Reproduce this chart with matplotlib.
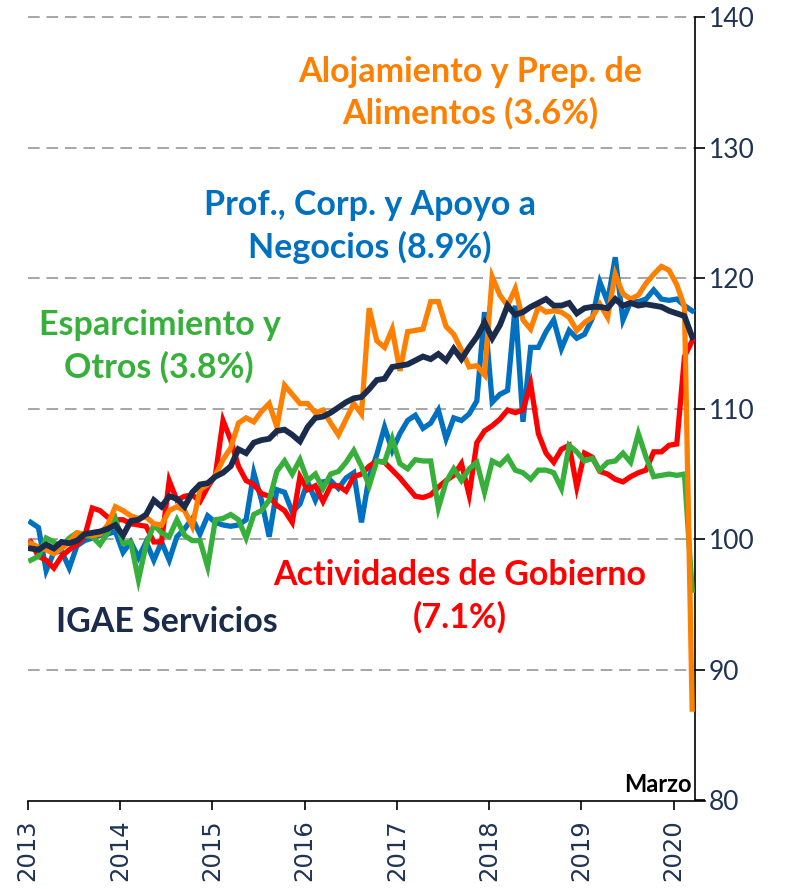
import numpy as np
import matplotlib
matplotlib.use('Agg')
import matplotlib.pyplot as plt

# indices mensuales, ene-2013 a mar-2020
igae_servicios = [
    99.3, 99.2, 99.6, 99.3, 99.8, 99.7, 99.9, 100.4, 100.5, 100.6, 100.8, 101.1,
    100.3, 101.4, 101.5, 101.9, 103.0, 102.5, 103.3, 103.1, 102.5, 103.6, 104.2, 104.3,
    104.8, 105.1, 105.6, 106.9, 106.6, 107.4, 107.6, 107.7, 108.3, 108.4, 108.0, 107.5,
    108.6, 109.3, 109.4, 109.7, 110.1, 110.5, 110.8, 110.9, 111.5, 112.2, 112.3, 113.2,
    113.3, 113.4, 113.7, 114.0, 113.8, 114.2, 113.7, 114.6, 113.8, 114.7, 115.5, 116.6,
    115.4, 116.4, 117.9, 117.2, 117.4, 117.8, 118.1, 118.4, 117.9, 117.9, 118.1, 117.3,
    117.7, 117.8, 117.8, 117.7, 118.4, 117.9, 118.1, 117.9, 118.0, 117.9, 117.8, 117.5,
    117.3, 117.1, 115.5]

alojamiento = [
    99.7, 99.4, 99.2, 98.9, 99.3, 99.8, 100.5, 100.4, 100.3, 100.4, 101.1, 102.5,
    102.2, 101.8, 101.6, 101.7, 101.2, 101.1, 102.2, 102.5, 102.2, 101.0, 103.8, 104.2,
    104.9, 106.1, 107.0, 108.9, 109.3, 109.0, 109.8, 110.4, 108.6, 111.8, 111.1, 110.4,
    110.4, 109.7, 109.9, 108.9, 108.0, 109.2, 110.4, 109.6, 117.7, 115.2, 114.7, 116.1,
    112.9, 115.9, 116.0, 116.1, 118.2, 118.2, 116.3, 115.7, 114.5, 113.2, 113.3, 112.6,
    120.1, 118.7, 117.9, 119.2, 116.8, 116.1, 117.8, 117.4, 117.5, 117.4, 117.0, 116.0,
    116.6, 117.0, 118.0, 117.0, 120.3, 118.8, 118.4, 118.7, 119.6, 120.3, 120.9, 120.6,
    119.5, 117.8, 87.0]

profesionales = [
    101.3, 100.9, 97.6, 99.0, 99.1, 97.8, 99.5, 99.9, 100.1, 100.3, 100.4, 100.6,
    99.0, 99.8, 98.6, 99.8, 98.4, 99.8, 98.4, 100.2, 100.8, 101.6, 100.4, 101.8,
    101.3, 101.1, 101.0, 101.1, 101.5, 105.1, 103.0, 100.2, 103.8, 103.6, 102.1, 102.7,
    104.4, 103.0, 104.4, 104.5, 103.9, 104.7, 105.1, 101.3, 104.8, 106.5, 108.6, 106.8,
    108.1, 109.1, 109.5, 108.5, 108.9, 109.9, 107.7, 109.3, 109.1, 109.6, 110.6, 117.4,
    110.5, 111.1, 111.4, 117.9, 109.0, 114.7, 114.7, 115.9, 116.8, 114.6, 116.0, 115.4,
    115.7, 116.9, 119.7, 118.2, 121.6, 116.8, 118.2, 118.2, 118.4, 119.1, 118.4, 118.3,
    118.4, 117.9, 117.5]

gobierno = [
    99.8, 98.7, 98.4, 97.8, 98.7, 99.2, 99.6, 100.2, 102.4, 102.2, 101.7, 101.5,
    101.5, 101.2, 101.1, 101.0, 99.8, 99.8, 104.5, 103.0, 103.3, 103.4, 102.9, 104.0,
    104.9, 109.1, 107.6, 105.6, 104.5, 104.2, 103.5, 103.3, 102.6, 102.2, 101.3, 104.8,
    103.8, 104.1, 102.9, 104.1, 104.1, 103.7, 104.8, 105.0, 105.6, 106.0, 105.9, 105.3,
    104.7, 104.0, 103.3, 103.2, 103.4, 104.0, 104.5, 104.9, 105.8, 103.4, 107.4, 108.3,
    108.7, 109.2, 109.9, 109.7, 109.9, 111.9, 108.1, 106.6, 105.9, 106.9, 107.2, 104.0,
    106.6, 106.3, 105.2, 105.0, 104.6, 104.4, 104.8, 105.1, 105.3, 106.7, 106.7, 107.2,
    107.3, 114.0, 115.2]

esparcimiento = [
    98.4, 98.7, 100.1, 99.8, 99.4, 100.1, 100.5, 100.3, 100.2, 99.6, 100.5, 101.6,
    99.7, 99.8, 96.9, 99.6, 101.1, 100.5, 100.2, 101.5, 100.3, 99.9, 99.9, 97.9,
    101.5, 101.6, 101.9, 101.5, 100.1, 101.9, 102.2, 103.0, 105.2, 106.0, 105.0, 106.1,
    104.5, 105.0, 103.9, 105.0, 105.2, 105.9, 106.8, 105.6, 104.1, 106.0, 105.9, 107.7,
    105.8, 105.4, 106.1, 106.0, 106.0, 102.4, 104.4, 105.4, 104.5, 105.4, 105.9, 103.6,
    106.0, 105.7, 106.3, 105.3, 105.1, 104.6, 105.3, 105.3, 105.1, 103.9, 107.2, 106.7,
    106.0, 106.2, 105.3, 105.9, 106.0, 106.6, 105.9, 108.1, 106.3, 104.8, 104.9, 105.0,
    104.9, 105.0, 96.1]

anios = [2013, 2014, 2015, 2016, 2017, 2018, 2019, 2020]

azul_marino = '#1B2B4B'
naranja = '#FF7F00'
azul = '#0070C0'
verde = '#36B03A'
rojo = '#FF0000'

n = len(igae_servicios)
t = 2013 + (np.arange(n) + 0.4) / 12.0

W, H = 794, 889
fig = plt.figure(figsize=(W / 100, H / 100), dpi=100)
ax = fig.add_axes([27.7 / W, 1 - 800.5 / H, (705 - 27.7) / W, (800.5 - 17) / H])

ax.plot(t, profesionales, color=azul, lw=3.8, solid_joinstyle='miter', zorder=3)
ax.plot(t, gobierno, color=rojo, lw=3.8, solid_joinstyle='miter', zorder=3)
ax.plot(t, esparcimiento, color=verde, lw=3.8, solid_joinstyle='miter', zorder=3)
ax.plot(t, alojamiento, color=naranja, lw=3.8, solid_joinstyle='miter', zorder=3)
ax.plot(t, igae_servicios, color=azul_marino, lw=4.2, solid_joinstyle='miter', zorder=4)

ax.set_xlim(2013, 2013 + 88.07 / 12)
ax.set_ylim(80, 140)

# cuadricula horizontal discontinua
for v in range(90, 141, 10):
    ax.plot([2013, 2013 + 86.8 / 12], [v, v], color='#A6A6A6', lw=1.4,
            linestyle=(0, (6, 3.5)), zorder=1, clip_on=False)

ax.spines['left'].set_visible(False)
ax.spines['top'].set_visible(False)
ax.spines['right'].set_position(('data', 2013 + 86.8 / 12))
ax.spines['right'].set_linewidth(1.2)
ax.spines['bottom'].set_linewidth(1.2)

ax.yaxis.tick_right()
ax.set_yticks(range(80, 141, 10))
ax.tick_params(axis='y', direction='out', length=7, width=1.2, pad=3,
               labelsize=19, labelcolor='#1F3354')
for lab in ax.get_yticklabels():
    lab.set_family('Lato')

ax.set_xticks(anios)
ax.set_xticklabels([str(a) for a in anios], rotation=90, fontsize=17.5,
                   color='#1F3354', family='DejaVu Sans')
ax.tick_params(axis='x', direction='out', length=6.5, width=1.2, pad=7)


def etiqueta(x, y, s, color, size=24.5, ha='center'):
    fig.text(x / W, 1 - y / H, s, color=color, fontsize=size, fontweight='bold',
             family='Lato', ha=ha, va='center')


etiqueta(470, 72, 'Alojamiento y Prep. de', naranja)
etiqueta(470, 113, 'Alimentos (3.6%)', naranja)
etiqueta(370, 205, 'Prof., Corp. y Apoyo a', azul)
etiqueta(370, 247, 'Negocios (8.9%)', azul)
etiqueta(160, 325, 'Esparcimiento y', verde)
etiqueta(159, 367, 'Otros (3.8%)', verde)
etiqueta(460, 575, 'Actividades de Gobierno', rojo)
etiqueta(460, 617, '(7.1%)', rojo)
etiqueta(167, 622, 'IGAE Servicios', azul_marino)
etiqueta(692, 784, 'Marzo', 'black', size=17, ha='right')

fig.savefig('out.png', dpi=100)
